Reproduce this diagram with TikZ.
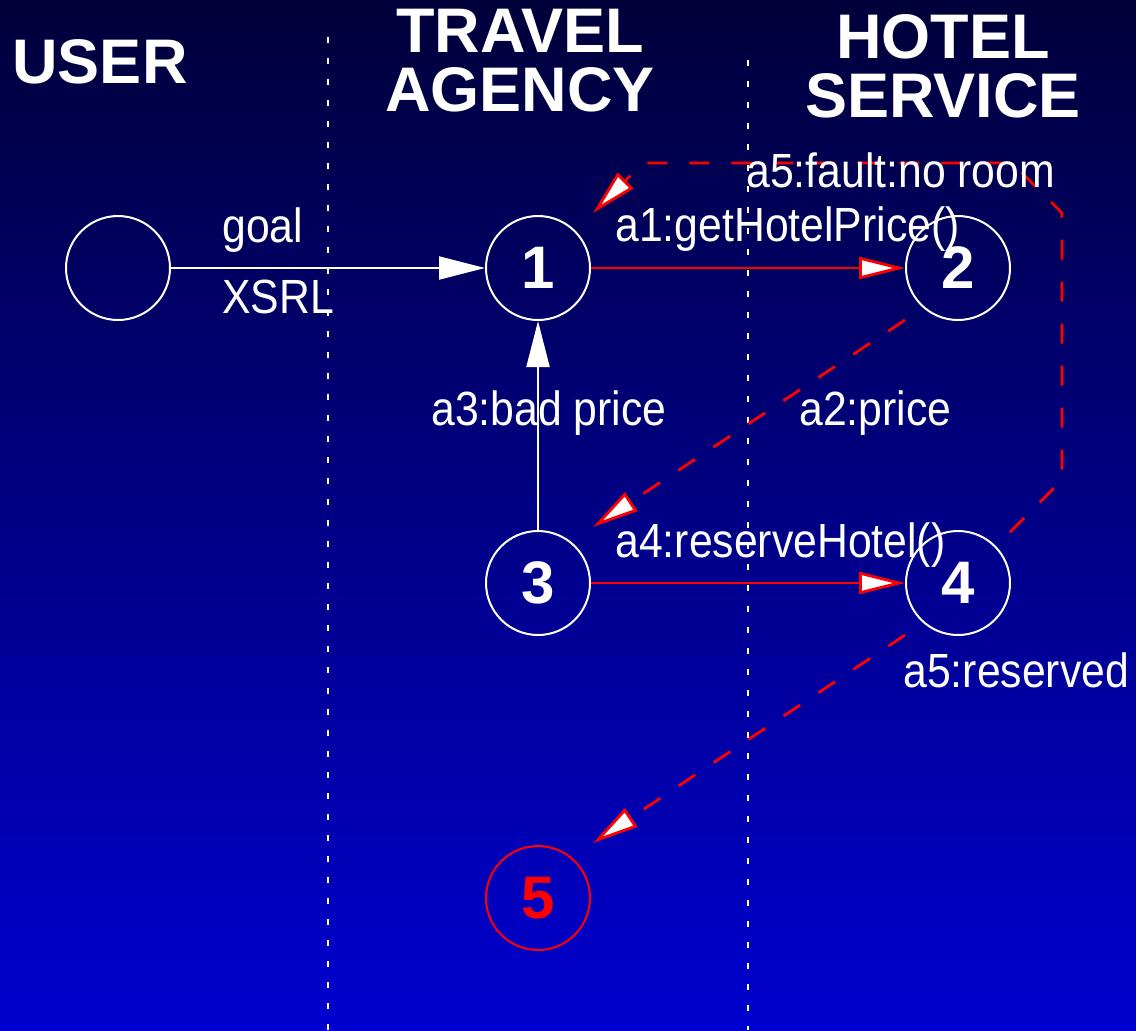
\documentclass[tikz,border=0pt]{standalone}
\usepackage{fontspec}
\setmainfont{Liberation Sans}
\newfontfamily\lblfont[FakeStretch=0.89]{Liberation Sans}
\usetikzlibrary{arrows.meta}

\definecolor{bgtop}{RGB}{0,0,58}
\definecolor{bgbottom}{RGB}{0,0,208}

\tikzset{
  state/.style={circle, draw=white, line width=1pt, minimum size=52pt, inner sep=0pt,
    text=white, font=\fontsize{30}{30}\selectfont\bfseries},
  endstate/.style={state, draw=red, text=red},
  title/.style={text=white, align=center, inner sep=0pt,
    font=\fontsize{31.5}{29.5}\selectfont\bfseries},
  msg/.style={text=white, inner sep=0pt, anchor=base west,
    font=\fontsize{24}{24}\lblfont},
  lane/.style={white, line width=0.8pt, dash pattern=on 3pt off 7.5pt},
  whitearr/.style={white, line width=1pt,
    -{Triangle[length=23pt, width=11.5pt, fill=white]}},
  redarr/.style={red, line width=1.4pt,
    -{Triangle[length=23pt, width=11pt, fill=white]}},
  reddash/.style={redarr, dash pattern=on 10pt off 11pt},
}

\begin{document}
\begin{tikzpicture}[x=0.5pt, y=-0.5pt]
  % background with vertical gradient
  \shade[top color=bgtop, bottom color=bgbottom] (0,0) rectangle (1136,1030);
  \useasboundingbox (0,0) rectangle (1136,1030);

  % swimlane separators
  \draw[lane] (328,37) -- (328,1030);
  \draw[lane] (748,60) -- (748,1030);

  % lane headings
  \node[title, anchor=base] (huser) at (100,83) {USER};
  \node[title] (htravel) at (520,61) {TRAVEL\\AGENCY};
  \node[title] (hhotel) at (943,66) {HOTEL\\SERVICE};

  % states
  \node[state] (u)  at (118,268) {};
  \node[state] (n1) at (538,268) {1};
  \node[state] (n2) at (958,268) {2};
  \node[state] (n3) at (538,583) {3};
  \node[state] (n4) at (958,583) {4};
  \node[endstate] (n5) at (538,898) {5};

  % user request
  \draw[whitearr] (u) -- (n1);
  \draw[whitearr] (n3) -- (n1);

  % invocations
  \draw[redarr] (n1) -- (n2);
  \draw[redarr] (n3) -- (n4);

  % replies
  \draw[reddash] ([shift={(-53,52)}]n2.center) -- ([shift={(55,-56)}]n3.center);
  \draw[reddash] ([shift={(-53,52)}]n4.center) -- ([shift={(55,-55)}]n5.center);
  \draw[reddash] ([shift={(52,-51)}]n4.center) -- ++(52,-52) -- ++(0,-267)
    -- ++(-50,-50) -- ([shift={(105,-105)}]n1.center) -- ([shift={(55,-55)}]n1.center);

  % message labels
  \node[msg] (lgoal)  at (222,242) {goal};
  \node[msg] (lxsrl)  at (222,313) {XSRL};
  \node[msg] (la1)    at (615,241) {a1:getHotelPrice()};
  \node[msg] (lfault) at (746,187) {a5:fault:no room};
  \node[msg] (la3)    at (431,425) {a3:bad price};
  \node[msg] (la2)    at (799,425) {a2:price};
  \node[msg] (la4)    at (615,557) {a4:reserveHotel()};
  \node[msg] (la5)    at (903,687) {a5:reserved};
\end{tikzpicture}
\end{document}
